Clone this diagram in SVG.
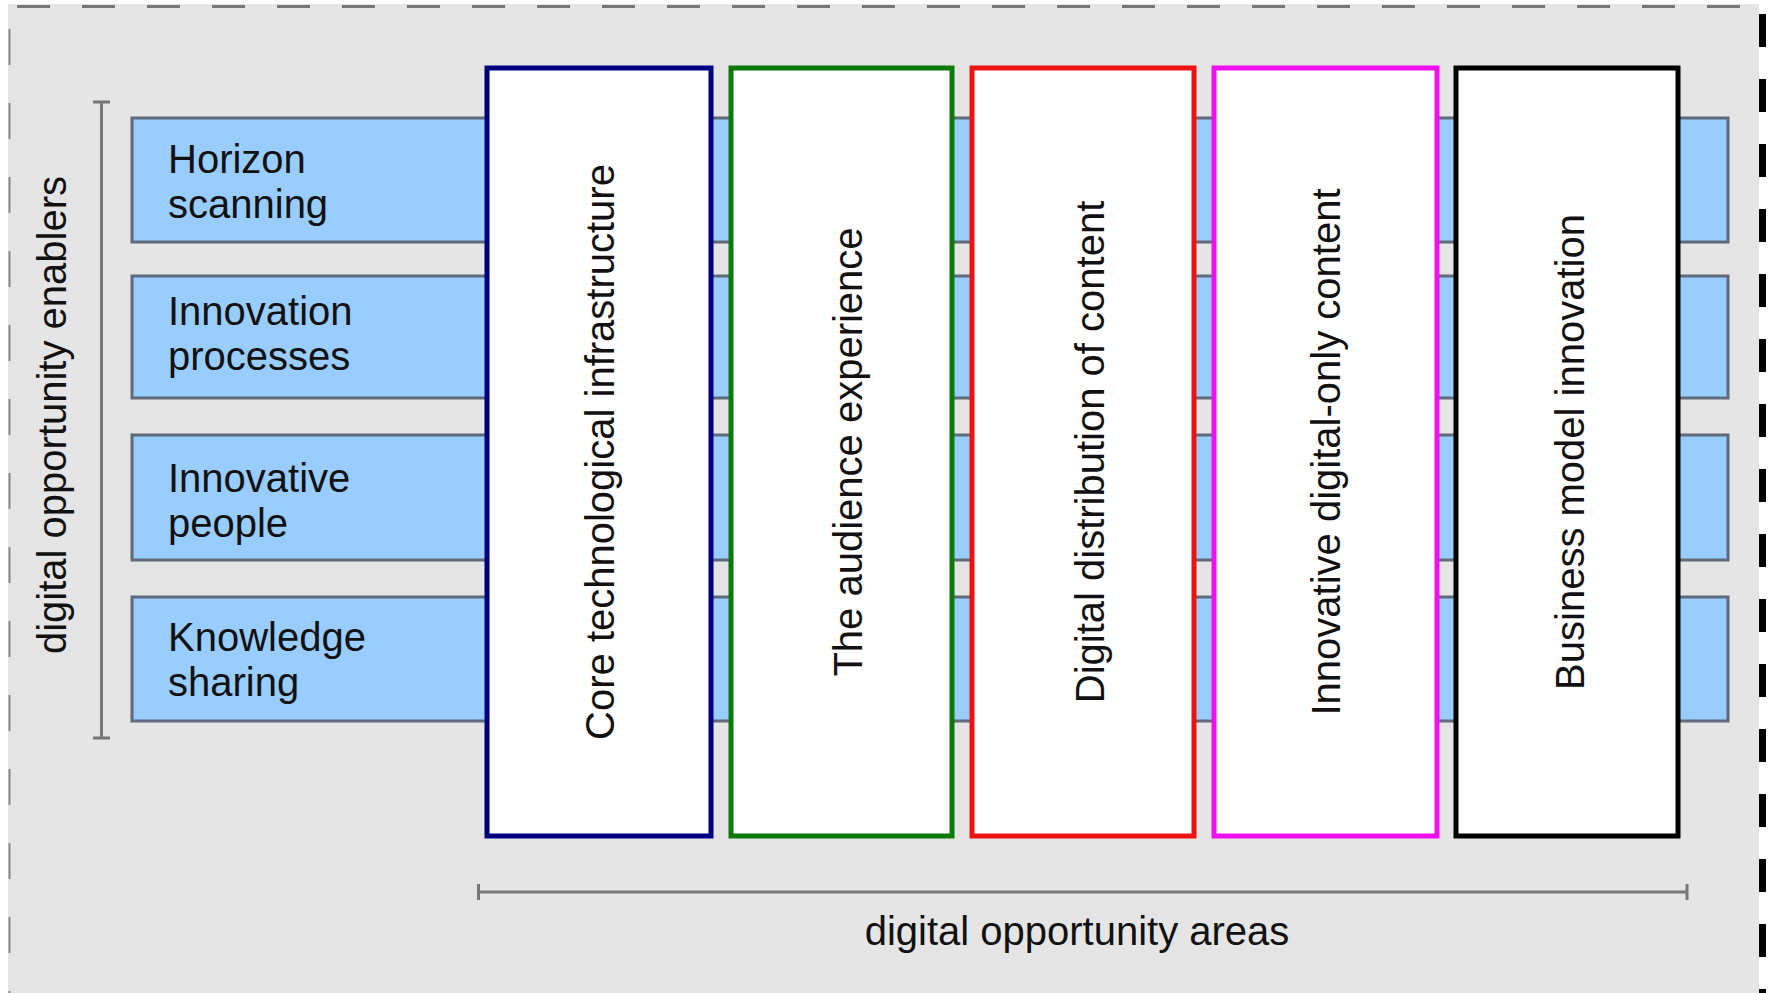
<svg xmlns="http://www.w3.org/2000/svg" width="1773" height="993" viewBox="0 0 1773 993">
<style>
.row{fill:#99ccff;stroke:#5f6b7a;stroke-width:3}
.col{fill:#ffffff;stroke-width:5}
.t{font-family:"Liberation Sans",Arial,sans-serif;font-size:40px;fill:#111}
.br{stroke:#777;stroke-width:3;fill:none}
</style>
<rect x="0" y="0" width="1773" height="993" fill="#ffffff"/>
<rect x="8" y="4" width="1751" height="989" fill="#e5e5e5"/>
<line x1="17" y1="6.5" x2="1759" y2="6.5" stroke="#777" stroke-width="3" stroke-dasharray="33 32"/>
<line x1="9.5" y1="29" x2="9.5" y2="993" stroke="#888" stroke-width="2" stroke-dasharray="36 38"/>
<line x1="1762.5" y1="14" x2="1762.5" y2="993" stroke="#000" stroke-width="7" stroke-dasharray="33 32"/>
<g id="row-horizon"><rect class="row" x="132" y="118" width="1596" height="124"/><text class="t" x="168" y="173">Horizon</text><text class="t" x="168" y="218">scanning</text></g>
<g id="row-innovation-processes"><rect class="row" x="132" y="276" width="1596" height="122"/><text class="t" x="168" y="325">Innovation</text><text class="t" x="168" y="370">processes</text></g>
<g id="row-innovative-people"><rect class="row" x="132" y="435" width="1596" height="125"/><text class="t" x="168" y="492">Innovative</text><text class="t" x="168" y="537">people</text></g>
<g id="row-knowledge-sharing"><rect class="row" x="132" y="597" width="1596" height="124"/><text class="t" x="168" y="651">Knowledge</text><text class="t" x="168" y="696">sharing</text></g>
<g id="col-core"><rect class="col" stroke="#000080" x="487" y="68" width="224" height="768"/><text class="t" text-anchor="middle" transform="translate(614 452) rotate(-90)">Core technological infrastructure</text></g>
<g id="col-audience"><rect class="col" stroke="#0a7a0a" x="731" y="68" width="221" height="768"/><text class="t" text-anchor="middle" transform="translate(862 452) rotate(-90)">The audience experience</text></g>
<g id="col-distribution"><rect class="col" stroke="#ee1111" x="972" y="68" width="222" height="768"/><text class="t" text-anchor="middle" transform="translate(1104 452) rotate(-90)">Digital distribution of content</text></g>
<g id="col-digital-only"><rect class="col" stroke="#ee11ee" x="1214" y="68" width="223" height="768"/><text class="t" text-anchor="middle" transform="translate(1340 452) rotate(-90)">Innovative digital-only content</text></g>
<g id="col-business"><rect class="col" stroke="#000000" x="1456" y="68" width="222" height="768"/><text class="t" text-anchor="middle" transform="translate(1584 452) rotate(-90)">Business model innovation</text></g>
<g id="connectors">
<path class="br" d="M93 102H110M101.5 102V738M93 738H110"/>
<path class="br" d="M478.5 884V900M478.5 892H1687M1687 884V900"/>
</g>
<g id="labels">
<text class="t" text-anchor="middle" transform="translate(66 415) rotate(-90)">digital opportunity enablers</text>
<text class="t" text-anchor="middle" x="1077" y="945">digital opportunity areas</text>
</g>
</svg>
